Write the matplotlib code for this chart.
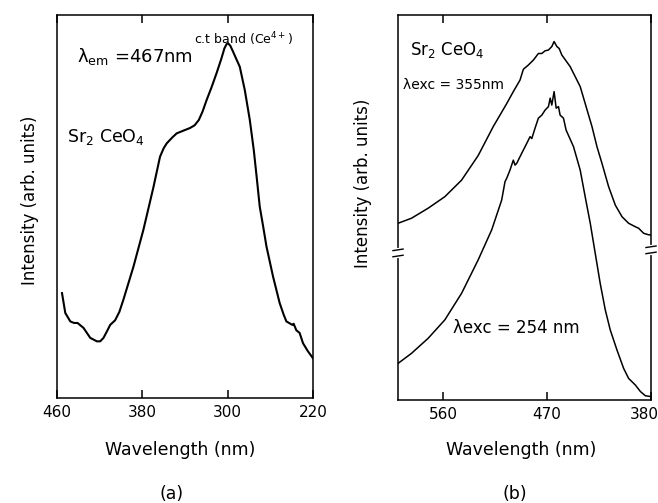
import matplotlib
matplotlib.use("Agg")
import matplotlib.pyplot as plt
from matplotlib.transforms import ScaledTranslation

# (a) excitation spectrum, lambda_em = 467 nm
a_wl = [455.3, 452.2, 447.5, 444.0, 440.7, 435.1, 428.8, 422.6, 419.5, 416.4,
        413.0, 410.1, 405.5, 401.5, 397.7, 388.3, 379.0, 369.6, 363.4, 360.0,
        357.1, 352.0, 347.8, 341.6, 335.3, 331.0, 327.0, 323.5, 319.7, 315.0,
        310.4, 306.0, 303.0, 301.0, 299.5, 297.5, 295.0, 292.0, 288.6, 283.9,
        279.2, 275.5, 272.5, 269.9, 266.5, 263.6, 257.4, 251.2, 247.5, 244.9,
        239.3, 238.1, 235.6, 232.5, 229.3, 224.7, 220.0]
a_int = [27.4, 22.2, 20.0, 19.6, 19.6, 18.3, 15.7, 14.8, 14.8, 15.7,
         17.5, 19.1, 20.3, 22.5, 25.7, 34.3, 43.9, 55.0, 63.0, 65.2,
         66.5, 68.0, 69.1, 69.8, 70.5, 71.2, 72.6, 74.8, 77.8, 81.2,
         84.8, 88.5, 91.3, 92.4, 92.6, 92.0, 90.5, 88.6, 86.5, 80.4,
         72.6, 64.8, 57.0, 50.0, 44.5, 39.6, 31.7, 24.8, 21.8, 20.0,
         19.1, 19.4, 17.7, 17.0, 14.3, 12.2, 10.4]

# (b) emission spectra
b355_wl = [599.0, 587.4, 573.0, 558.5, 544.0, 529.6, 516.6, 504.9, 499.2, 493.4,
           490.5, 486.2, 481.8, 477.5, 474.5, 471.7, 468.8, 465.9, 463.9, 461.5,
           459.5, 457.2, 450.0, 441.3, 431.1, 426.8, 422.5, 416.7, 410.9, 405.1,
           399.4, 393.6, 390.7, 386.4, 382.0, 380.0]
b355_int = [45.9, 47.2, 49.8, 52.8, 57.1, 63.5, 71.0, 77.0, 80.1, 83.1,
            85.9, 87.0, 88.3, 90.0, 90.0, 90.7, 90.9, 91.8, 93.1, 91.8,
            91.3, 89.6, 86.6, 81.4, 71.0, 65.8, 61.5, 55.4, 50.6, 47.6,
            45.9, 45.0, 44.6, 43.3, 42.9, 42.9]

b254_wl = [599.0, 587.4, 573.0, 558.5, 544.0, 529.6, 517.9, 509.3, 506.4, 504.9,
           502.1, 499.2, 497.7, 496.2, 491.9, 487.5, 484.7, 483.2, 480.4, 477.5,
           474.5, 471.7, 468.8, 467.3, 465.9, 463.9, 462.1, 460.1, 458.7, 455.8,
           453.5, 447.1, 441.3, 437.0, 432.6, 428.3, 424.0, 419.6, 415.3, 409.5,
           403.7, 399.4, 393.6, 389.2, 384.9, 380.5]
b254_int = [9.5, 12.1, 16.0, 20.8, 27.7, 36.4, 44.2, 51.9, 56.7, 57.6,
            59.7, 62.3, 61.0, 61.5, 64.1, 66.7, 68.4, 67.9, 70.6, 73.2,
            74.0, 75.3, 76.2, 78.4, 76.6, 80.1, 75.8, 76.2, 74.0, 73.2,
            70.1, 65.8, 59.7, 52.8, 45.9, 38.1, 30.3, 23.4, 18.2, 13.0,
            8.2, 5.6, 3.9, 2.2, 1.1, 0.9]

a_ticks = [460, 380, 300, 220]
b_ticks = [560, 470, 380]

plt.rcParams['font.family'] = 'DejaVu Sans'
plt.rcParams['mathtext.default'] = 'regular'

fig = plt.figure(figsize=(6.58, 5.03), dpi=100)
ax_a = fig.add_axes([0.0866, 0.2087, 0.389, 0.7614])
ax_b = fig.add_axes([0.6049, 0.2048, 0.3845, 0.7654])

for ax in (ax_a, ax_b):
    for s in ax.spines.values():
        s.set_linewidth(1.1)
    ax.tick_params(axis='x', direction='in', length=6, width=1.1, top=True,
                   labelsize=11, pad=5)
    ax.set_yticks([])
    ax.set_ylim(0, 100)

# panel (a)
ax_a.plot(a_wl, a_int, color='black', lw=1.5)
ax_a.set_xlim(460, 220)
ax_a.set_xticks(a_ticks)
ax_a.text(0.727, 0.937, 'c.t band (Ce$^{4+}$)', transform=ax_a.transAxes,
          ha='center', va='center', fontsize=9)
ax_a.text(0.08, 0.893, 'λ$_{em}$ =467nm', transform=ax_a.transAxes,
          ha='left', va='center', fontsize=13)
ax_a.text(0.04, 0.681, 'Sr$_2$ CeO$_4$', transform=ax_a.transAxes,
          ha='left', va='center', fontsize=12.5)
ax_a.text(-0.105, 0.517, 'Intensity (arb. units)', transform=ax_a.transAxes,
          rotation=90, ha='center', va='center', fontsize=12)
ax_a.text(0.48, -0.136, 'Wavelength (nm)', transform=ax_a.transAxes,
          ha='center', va='center', fontsize=12.5)
ax_a.text(0.449, -0.251, '(a)', transform=ax_a.transAxes,
          ha='center', va='center', fontsize=12.5)

# panel (b)
ax_b.plot(b355_wl, b355_int, color='black', lw=1.1)
ax_b.plot(b254_wl, b254_int, color='black', lw=1.1)
ax_b.set_xlim(599, 380)
ax_b.set_xticks(b_ticks)
# last tick label sits against the figure edge, nudge it left
last = ax_b.get_xticklabels()[-1]
last.set_transform(last.get_transform() + ScaledTranslation(-7 / 100, 0, fig.dpi_scale_trans))
ax_b.text(0.047, 0.909, 'Sr$_2$ CeO$_4$', transform=ax_b.transAxes,
          ha='left', va='center', fontsize=12)
ax_b.text(0.02, 0.818, 'λexc = 355nm', transform=ax_b.transAxes,
          ha='left', va='center', fontsize=10)
ax_b.text(0.217, 0.187, 'λexc = 254 nm', transform=ax_b.transAxes,
          ha='left', va='center', fontsize=12)
ax_b.text(-0.138, 0.564, 'Intensity (arb. units)', transform=ax_b.transAxes,
          rotation=90, ha='center', va='center', fontsize=12)
ax_b.text(0.486, -0.13, 'Wavelength (nm)', transform=ax_b.transAxes,
          ha='center', va='center', fontsize=12.5)
ax_b.text(0.462, -0.244, '(b)', transform=ax_b.transAxes,
          ha='center', va='center', fontsize=12.5)

# axis break marks on both side spines of (b)
for xf, yf in ((0.0, 0.382), (1.0, 0.39)):
    ax_b.plot([xf, xf], [yf - 0.007, yf + 0.007], transform=ax_b.transAxes,
              color='white', lw=3, clip_on=False, zorder=5)
    for dy in (-0.008, 0.008):
        ax_b.plot([xf - 0.02, xf + 0.02], [yf + dy - 0.002, yf + dy + 0.002],
                  transform=ax_b.transAxes, color='black', lw=1,
                  clip_on=False, zorder=6)

fig.savefig('out.png', dpi=100)
